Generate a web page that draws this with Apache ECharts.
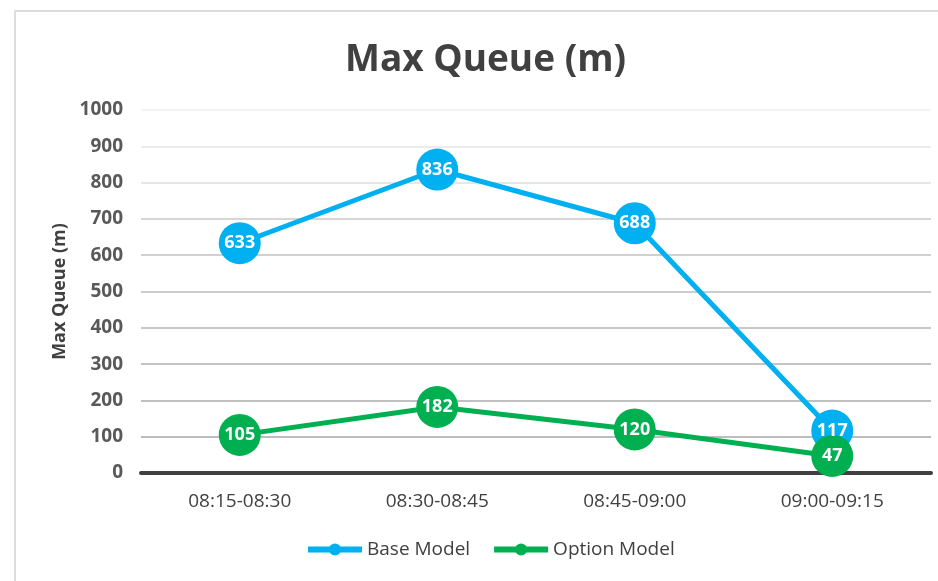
<!DOCTYPE html>
<html>
<head>
<meta charset="utf-8">
<script src="https://cdn.jsdelivr.net/npm/echarts@6/dist/echarts.min.js"></script>
<style>
html,body{margin:0;padding:0;background:#fff;}
#chart{width:938px;height:581px;}
</style>
</head>
<body>
<div id="chart"></div>
<script>
var categories = ['08:15-08:30', '08:30-08:45', '08:45-09:00', '09:00-09:15'];
var baseModel = [633, 836, 688, 117];
var optionModel = [105, 182, 120, 47];

var font = '"Open Sans", "Noto Sans", sans-serif';
var myChart = echarts.init(document.getElementById('chart'));

function lineSeries(name, data, color) {
    return {
        name: name,
        type: 'line',
        data: data,
        symbol: 'circle',
        symbolSize: 42,
        itemStyle: {color: color},
        lineStyle: {width: 5, color: color},
        label: {
            show: true,
            position: 'inside',
            color: '#fff',
            fontWeight: 'bold',
            fontSize: 18,
            fontFamily: font
        }
    };
}

myChart.setOption({
    animation: false,
    graphic: [{
        type: 'polyline',
        shape: {points: [[15, 581], [15, 11], [938, 11]]},
        style: {stroke: '#dcdcdc', lineWidth: 2, fill: null}
    }],
    title: {
        text: 'Max Queue (m)',
        left: 340,
        top: 37,
        textStyle: {color: '#404040', fontSize: 37, fontWeight: 'bold', fontFamily: font}
    },
    legend: {
        data: ['Base Model', 'Option Model'],
        bottom: 17,
        left: 300,
        itemWidth: 54,
        itemHeight: 15,
        itemGap: 21,
        lineStyle: {width: 6},
        textStyle: {color: '#404040', fontSize: 19, fontFamily: font}
    },
    grid: {left: 141, right: 7, top: 110, bottom: 108},
    xAxis: {
        type: 'category',
        data: categories,
        axisLine: {lineStyle: {color: '#404040', width: 4}},
        axisTick: {show: false},
        axisLabel: {color: '#404040', fontSize: 19, margin: 19, fontFamily: font}
    },
    yAxis: {
        type: 'value',
        min: 0,
        max: 1000,
        interval: 100,
        name: 'Max Queue (m)',
        nameLocation: 'middle',
        nameGap: 72,
        nameTextStyle: {color: '#404040', fontSize: 18, fontWeight: 'bold', fontFamily: font},
        axisLine: {show: false},
        axisTick: {show: false},
        axisLabel: {
            color: '#595959', fontSize: 19, fontWeight: 'bold', margin: 18, fontFamily: font,
            formatter: function (v) { return String(v); }
        },
        splitLine: {lineStyle: {
            width: 2,
            color: ['#404040', '#bdbdbd', '#c0c0c0', '#c4c4c4', '#c8c8c8', '#cccccc', '#d0d0d0', '#d6d6d6', '#e6e6e6', '#ececec', '#f3f3f3']
        }}
    },
    series: [
        lineSeries('Base Model', baseModel, '#00B0F0'),
        lineSeries('Option Model', optionModel, '#00B050')
    ]
});
</script>
</body>
</html>
